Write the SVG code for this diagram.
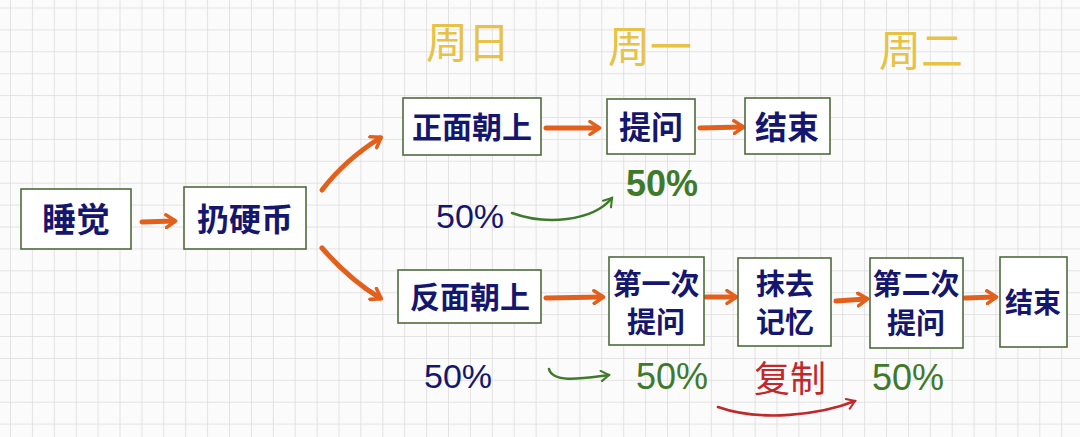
<svg xmlns="http://www.w3.org/2000/svg" width="1080" height="437" viewBox="0 0 1080 437">
<defs>
<pattern id="grid" x="10" y="7.5" width="21.9" height="21.9" patternUnits="userSpaceOnUse">
<path d="M0,0 H21.9 M0,0 V21.9" fill="none" stroke="#dcdcdc" stroke-width="1.6"/>
</pattern>
<marker id="oh" viewBox="0 0 10 10" refX="6" refY="5" markerWidth="3.2" markerHeight="3.2" orient="auto" markerUnits="strokeWidth">
<path d="M1,1 L7,5 L1,9" fill="none" stroke="#e2601c" stroke-width="2.2" stroke-linecap="round" stroke-linejoin="round"/>
</marker>
<marker id="gh" viewBox="0 0 10 10" refX="7" refY="5" markerWidth="5" markerHeight="5" orient="auto" markerUnits="strokeWidth">
<path d="M1,1 L7,5 L1,9" fill="none" stroke="#3f7a2c" stroke-width="1.6" stroke-linecap="round"/>
</marker>
<marker id="rh" viewBox="0 0 10 10" refX="7" refY="5" markerWidth="5" markerHeight="5" orient="auto" markerUnits="strokeWidth">
<path d="M1,1 L7,5 L1,9" fill="none" stroke="#c0282a" stroke-width="1.6" stroke-linecap="round"/>
</marker>
</defs>
<style>
.box{fill:#ffffff;stroke:#4e6b3c;stroke-width:1.6}
.t{font-family:"Noto Sans CJK SC","Noto Sans",sans-serif;fill:#15166e;text-anchor:middle;font-weight:bold}
.hd{font-family:"Noto Sans CJK SC","Noto Sans",sans-serif;fill:#e6c246;text-anchor:middle;font-size:42px}
.pb{font-family:"Liberation Sans","Noto Sans",sans-serif;fill:#15166e;text-anchor:middle;font-size:34px}
.pg{font-family:"Liberation Sans","Noto Sans",sans-serif;fill:#3f7a2c;text-anchor:middle;font-size:36px}
.ar{fill:none;stroke:#e2601c;stroke-width:5;stroke-linecap:round;marker-end:url(#oh)}
.ga{fill:none;stroke:#3f7a2c;stroke-width:2.6;stroke-linecap:round;marker-end:url(#gh)}
.ra{fill:none;stroke:#c0282a;stroke-width:2.6;stroke-linecap:round;marker-end:url(#rh)}
</style>
<rect width="1080" height="437" fill="#fbfbfb"/>
<rect width="1080" height="437" fill="url(#grid)"/>

<g id="headers">
<text class="hd" x="468" y="58">周日</text>
<text class="hd" x="650" y="62">周一</text>
<text class="hd" x="921" y="66">周二</text>
</g>

<g id="connectors">
<path class="ar" d="M142,222 L174,221"/>
<path class="ar" d="M322,190 Q345,160 380,138"/>
<path class="ar" d="M322,248 Q350,280 380,298"/>
<path class="ar" d="M546,128 L598,128"/>
<path class="ar" d="M700,128 L742,127"/>
<path class="ar" d="M546,298 L602,297"/>
<path class="ar" d="M706,297 L735,297"/>
<path class="ar" d="M836,301 L866,299"/>
<path class="ar" d="M965,298 L995,297"/>
<path class="ga" d="M512,213 C545,225 592,222 612,198"/>
<path class="ga" d="M549,369 C553,384 585,378 609,375"/>
<path class="ra" d="M718,407 C760,422 820,415 855,401"/>
</g>

<g id="n1"><rect class="box" x="21" y="189" width="110" height="60"/><text class="t" x="76" y="232" font-size="34">睡觉</text></g>
<g id="n2"><rect class="box" x="184" y="187" width="122" height="62"/><text class="t" x="245" y="231" font-size="32">扔硬币</text></g>
<g id="n3"><rect class="box" x="403" y="98" width="138" height="57"/><text class="t" x="472" y="138" font-size="30">正面朝上</text></g>
<g id="n4"><rect class="box" x="607" y="99" width="88" height="55"/><text class="t" x="651" y="139" font-size="32">提问</text></g>
<g id="n5"><rect class="box" x="745" y="98" width="85" height="56"/><text class="t" x="787" y="139" font-size="32">结束</text></g>
<g id="n6"><rect class="box" x="398" y="270" width="143" height="53"/><text class="t" x="470" y="308" font-size="30">反面朝上</text></g>
<g id="n7"><rect class="box" x="609" y="257" width="95" height="88"/><text class="t" x="656" y="295" font-size="29">第一次</text><text class="t" x="656" y="333" font-size="29">提问</text></g>
<g id="n8"><rect class="box" x="738" y="258" width="93" height="88"/><text class="t" x="785" y="295" font-size="29">抹去</text><text class="t" x="785" y="333" font-size="29">记忆</text></g>
<g id="n9"><rect class="box" x="870" y="258" width="93" height="90"/><text class="t" x="916" y="295" font-size="29">第二次</text><text class="t" x="916" y="334" font-size="29">提问</text></g>
<g id="n10"><rect class="box" x="1000" y="257" width="67" height="90"/><text class="t" x="1033" y="313" font-size="28">结束</text></g>

<g id="labels">
<text class="pb" x="470" y="228">50%</text>
<text class="pb" x="458" y="388">50%</text>
<text class="pg" x="662" y="196" font-weight="bold">50%</text>
<text class="pg" x="672" y="389">50%</text>
<text class="pg" x="908" y="390">50%</text>
<text x="790" y="392" font-family="Noto Sans CJK SC,sans-serif" font-size="36" fill="#c0282a" text-anchor="middle">复制</text>
</g>
</svg>
